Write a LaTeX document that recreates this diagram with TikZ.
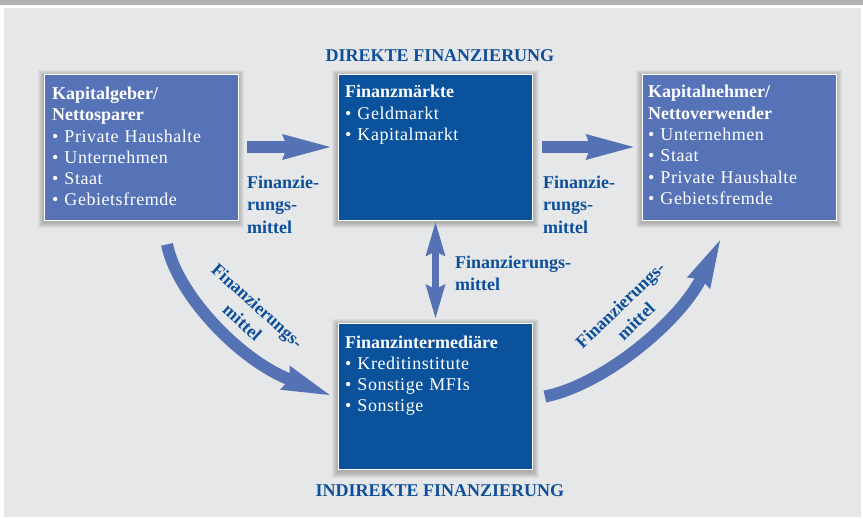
\documentclass[tikz,border=0pt]{standalone}
\usepackage{fontspec}
\setmainfont{Liberation Serif}
\newfontfamily\boxfont[LetterSpace=3]{Liberation Serif}
\usetikzlibrary{arrows.meta,backgrounds}
\definecolor{midblue}{HTML}{5573B6}
\definecolor{darkblue}{HTML}{0B529D}
\definecolor{arrowblue}{HTML}{5572B5}
\definecolor{textblue}{HTML}{0D4F9A}
\definecolor{pagegray}{HTML}{E6E7E9}
\definecolor{bargray}{HTML}{B0B1B3}
\newcommand{\boxhead}[1]{{\normalfont\bfseries #1}}

\begin{document}
\begin{tikzpicture}[x=1pt, y=-1pt,
  sector box/.style={rectangle, fill=midblue, draw=white, line width=.8pt, minimum width=194pt, minimum height=146pt, inner sep=0pt},
  market box/.style={sector box, fill=darkblue},
  box text/.style={anchor=base west, inner sep=0pt, text=white, text width=186pt, align=left, font=\boxfont\fontsize{18}{21.3}\selectfont},
  flow label/.style={inner sep=0pt, text=textblue, font=\bfseries\fontsize{18}{22.5}\selectfont},
  title/.style={anchor=base, inner sep=0pt, text=textblue, font=\bfseries\fontsize{18}{22}\selectfont},
  fat arrow/.style={draw=arrowblue, line width=12pt, -{Stealth[length=48pt,width=26pt,inset=5pt,line width=0pt]}},
  thin arrow/.style={draw=arrowblue, line width=7pt, {Stealth[length=34pt,width=20pt,inset=5pt,line width=0pt]}-{Stealth[length=34pt,width=20pt,inset=5pt,line width=0pt]}}]
\useasboundingbox (0,0) rectangle (863,519);

% the four sectors
\node [sector box] (kgeber) at (141,147) {};
\node [market box] (fmarkt) at (435.5,147) {};
\node [sector box] (knehmer) at (739,147) {};
\node [market box] (fint) at (435.5,396.5) {};

\node [box text] (kgeber-t) at (52,99.5) {\boxhead{Kapitalgeber/}\\\boxhead{Nettosparer}\\• Private Haushalte\\• Unternehmen\\• Staat\\• Gebietsfremde};
\node [box text] (fmarkt-t) at (345,98) {\boxhead{Finanzmärkte}\\• Geldmarkt\\• Kapitalmarkt};
\node [box text] (knehmer-t) at (648,98) {\boxhead{Kapitalnehmer/}\\\boxhead{Nettoverwender}\\• Unternehmen\\• Staat\\• Private Haushalte\\• Gebietsfremde};
\node [box text] (fint-t) at (345,348) {\boxhead{Finanzintermediäre}\\• Kreditinstitute\\• Sonstige MFIs\\• Sonstige};

\node [title] (direkt) at (440,62) {DIREKTE FINANZIERUNG};
\node [title] (indirekt) at (440,496) {INDIREKTE FINANZIERUNG};

% flows
\draw [fat arrow, shorten <=9pt, shorten >=8pt] (kgeber) -- (fmarkt);
\draw [fat arrow, shorten <=9pt, shorten >=8pt] (fmarkt) -- (knehmer);
\draw [thin arrow, shorten <=2pt, shorten >=5pt] (fmarkt) -- (fint);
\draw [fat arrow] ([shift={(26,24)}]kgeber.south) .. controls +(10,50) and +(-90,-35) .. ([shift={(-8.5,-1.5)}]fint.west);
\draw [fat arrow] ([shift={(12,0)}]fint.east) .. controls +(60,-12) and +(-40,80) .. ([shift={(-19,20)}]knehmer.south);

\node [flow label, anchor=base west, text width=80pt, align=left] (lflow) at (247,188) {Finanzie-\\rungs-\\mittel};
\node [flow label, anchor=base west, text width=80pt, align=left] (rflow) at (543,188) {Finanzie-\\rungs-\\mittel};
\node [flow label, anchor=base west, text width=130pt, align=left] (vflow) at (455,268) {Finanzierungs-\\mittel};
\node [flow label, text width=140pt, align=center, rotate=-42] (lcurve) at (250,314) {Finanzierungs-\\mittel};
\node [flow label, text width=140pt, align=center, rotate=44] (rcurve) at (628,313) {Finanzierungs-\\mittel};

\begin{scope}[on background layer]
\fill [bargray] (0,0) rectangle (863,5);
\fill [pagegray] (4,8) rectangle (861,517);
\foreach \b in {kgeber,fmarkt,knehmer,fint}
  \foreach \i in {1,...,6}
    \fill [black, opacity=.045] ([shift={(-\i,2-\i)}]\b.north west) rectangle ([shift={(\i,2+\i)}]\b.south east);
\end{scope}
\end{tikzpicture}
\end{document}
